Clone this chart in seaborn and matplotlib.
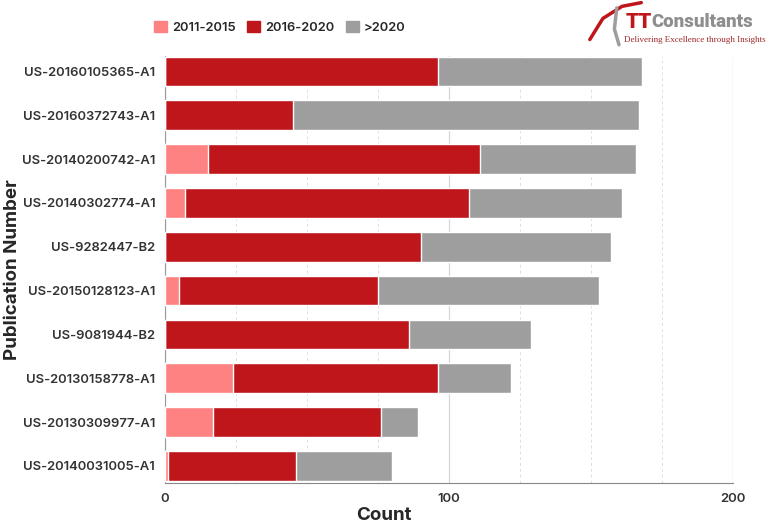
import numpy as np
import pandas as pd
import matplotlib.pyplot as plt
import seaborn as sns

# publication numbers (top to bottom) and counts per period
patents = ['US-20160105365-A1', 'US-20160372743-A1', 'US-20140200742-A1',
           'US-20140302774-A1', 'US-9282447-B2', 'US-20150128123-A1',
           'US-9081944-B2', 'US-20130158778-A1', 'US-20130309977-A1',
           'US-20140031005-A1']
p2011_2015 = [0, 0, 15, 7, 0, 5, 0, 24, 17, 1]
p2016_2020 = [96, 45, 96, 100, 90, 70, 86, 72, 59, 45]
p_after2020 = [72, 122, 55, 54, 67, 78, 43, 26, 13, 34]

periods = ['2011-2015', '2016-2020', '>2020']
colors = ['#FF8282', '#BE161B', '#9E9E9E']

df = pd.DataFrame({'patent': patents, '2011-2015': p2011_2015,
                   '2016-2020': p2016_2020, '>2020': p_after2020})
# cumulative sums so the bars can be drawn on top of each other
df['c1'] = df['2011-2015']
df['c2'] = df['c1'] + df['2016-2020']
df['c3'] = df['c2'] + df['>2020']

sns.set_style('white')
plt.rcParams['font.family'] = ['Inter', 'DejaVu Sans']

fig = plt.figure(figsize=(7.68, 5.27), dpi=100)
ax = fig.add_axes([0.2148, 0.0835, 0.7396, 0.810])

# draw totals first, then smaller cumulative parts over them
for col, c in zip(['c3', 'c2', 'c1'], colors[::-1]):
    sns.barplot(data=df, y='patent', x=col, order=patents, color=c,
                width=0.68, saturation=1, ax=ax, zorder=3)

ax.set_xlim(0, 200)
ax.set_ylim(9.39, -0.35)
ax.set_xticks([0, 100, 200])
ax.set_xticks(np.arange(25, 200, 25), minor=True)
ax.grid(axis='x', which='major', color='#d6d6d6', lw=0.9, zorder=0)
ax.grid(axis='x', which='minor', color='#dedede', lw=0.7, ls=(0, (3, 3)), zorder=0)
ax.tick_params(axis='x', which='major', length=4, color='#888888', labelsize=9.5,
               labelcolor='#333333')
ax.tick_params(axis='x', which='minor', length=0)
ax.tick_params(axis='y', length=0, labelsize=9.4, labelcolor='#333333', pad=7)
for lab in ax.get_xticklabels() + ax.get_yticklabels():
    lab.set_fontweight('semibold')

for s in ['top', 'right']:
    ax.spines[s].set_visible(False)
ax.spines['left'].set_color('#999999')
ax.spines['bottom'].set_color('#888888')

ax.set_xlabel('Count', fontsize=13.5, fontweight='bold', va='center')
ax.set_ylabel('Publication Number', fontsize=13.5, fontweight='bold', va='center')
ax.xaxis.set_label_coords(0.386, -0.077)
ax.yaxis.set_label_coords(-0.268, 0.5)

# legend at the top
handles = [plt.Rectangle((0, 0), 1, 1, color=c) for c in colors]
fig.legend(handles, periods, loc='center left', bbox_to_anchor=(0.185, 0.948),
           ncol=3, frameon=False, handlelength=1.0, handleheight=1.0,
           columnspacing=0.9, handletextpad=0.4,
           prop={'weight': 'semibold', 'size': 9.3})

# logo: small swoosh and text
fig.lines.append(plt.Line2D([0.768, 0.785, 0.81, 0.835], [0.925, 0.965, 0.988, 0.995],
                            transform=fig.transFigure, color='#BE161B', lw=2.5))
fig.lines.append(plt.Line2D([0.803, 0.80, 0.806], [0.985, 0.945, 0.915],
                            transform=fig.transFigure, color='#9E9E9E', lw=2.5))
tt = fig.text(0.814, 0.958, 'TT', color='#BE161B', fontsize=15, fontweight='heavy',
              family=['Roboto', 'DejaVu Sans'], ha='left', va='center')
fig.canvas.draw()
bb = tt.get_window_extent().transformed(fig.transFigure.inverted())
fig.text(bb.x1, 0.958, 'Consultants', color='#8E8E8E', fontsize=13.5, fontweight='heavy',
         family=['Roboto', 'DejaVu Sans'], ha='left', va='center')
fig.text(0.813, 0.924, 'Delivering Excellence through Insights', color='#A0262B',
         fontsize=6.5, family=['Liberation Serif', 'DejaVu Serif'], ha='left', va='center')

fig.savefig('out.png', dpi=100)
